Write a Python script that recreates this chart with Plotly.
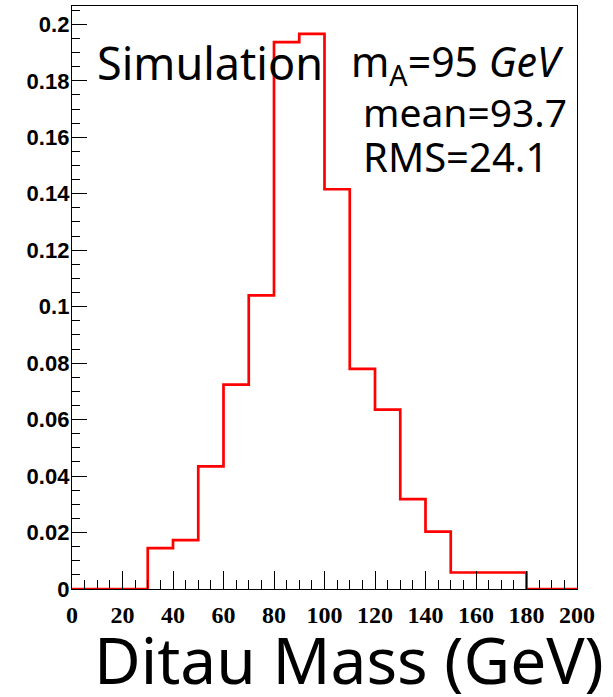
import plotly.graph_objects as go

# Histogram data (bin edges in GeV, normalized contents)
bin_edges = [0, 10, 20, 30, 40, 50, 60, 70, 80, 90, 100,
             110, 120, 130, 140, 150, 160, 170, 180, 190, 200]
bin_contents = [0.0, 0.0, 0.0, 0.0145, 0.0173, 0.0434, 0.0724, 0.1040,
                0.1937, 0.1966, 0.1416, 0.0780, 0.0635, 0.0318, 0.0203,
                0.00585, 0.00585, 0.00585, 0.0, 0.0]

x_tick_vals = [0, 20, 40, 60, 80, 100, 120, 140, 160, 180, 200]
x_tick_text = ["0", "20", "40", "60", "80", "100", "120", "140", "160", "180", "200"]
y_tick_vals = [0, 0.02, 0.04, 0.06, 0.08, 0.1, 0.12, 0.14, 0.16, 0.18, 0.2]
y_tick_text = ["0", "0.02", "0.04", "0.06", "0.08", "0.1", "0.12", "0.14", "0.16", "0.18", "0.2"]

y_step = bin_contents + [bin_contents[-1]]

fig = go.Figure()
fig.add_trace(go.Scatter(
    x=bin_edges, y=y_step, mode="lines", line_shape="hv",
    line=dict(color="#ff0000", width=2.7), cliponaxis=False,
    hoverinfo="skip", showlegend=False,
))

TXT = "Noto Sans"
fig.update_layout(
    width=613, height=697,
    margin=dict(l=72, r=36, t=6, b=108, pad=0),
    paper_bgcolor="white", plot_bgcolor="white",
    showlegend=False,
    xaxis=dict(
        range=[0, 200], showgrid=False, zeroline=False,
        showline=True, linecolor="black", linewidth=1, mirror=True,
        ticks="inside", ticklen=18, tickwidth=1, tickcolor="black",
        tickvals=x_tick_vals, ticktext=x_tick_text,
        tickfont=dict(family="Liberation Serif", size=24, color="black", weight="bold"),
        ticklabelstandoff=4,
        minor=dict(dtick=5, tick0=0, ticks="inside", ticklen=9, tickwidth=1, tickcolor="black"),
    ),
    yaxis=dict(
        range=[0, 0.2065], showgrid=False, zeroline=False,
        showline=True, linecolor="black", linewidth=1.3, mirror=True,
        ticks="inside", ticklen=15, tickwidth=1, tickcolor="black",
        tickvals=y_tick_vals, ticktext=y_tick_text,
        tickfont=dict(family="Liberation Sans", size=22, color="black", weight="bold"),
        ticklabelstandoff=-3,
        minor=dict(dtick=0.005, tick0=0, ticks="inside", ticklen=8, tickwidth=1, tickcolor="black"),
    ),
)

def px_x(p):
    return (p - 72) / 505.0

def px_y(p):
    return (589 - p) / 583.0

annos = [
    dict(text="Simulation", x=px_x(95), y=px_y(62), xanchor="left", yanchor="middle", size=45),
    dict(text="m<sub>A</sub>=95 <i>GeV</i>", x=px_x(349), y=px_y(63), xanchor="left", yanchor="middle", size=41),
    dict(text="mean=93.7", x=px_x(361), y=px_y(112), xanchor="left", yanchor="middle", size=39),
    dict(text="RMS=24.1", x=px_x(361), y=px_y(156), xanchor="left", yanchor="middle", size=40),
    dict(text="Ditau Mass (GeV)", x=px_x(606), y=px_y(659), xanchor="right", yanchor="middle", size=64),
]
for a in annos:
    fig.add_annotation(
        text=a["text"], xref="paper", yref="paper", x=a["x"], y=a["y"],
        xanchor=a["xanchor"], yanchor=a["yanchor"], showarrow=False,
        font=dict(family=TXT, size=a["size"], color="black"),
    )

fig.write_html(
    "out.html",
    config={"displayModeBar": False},
    post_script="document.body.style.margin='0';document.body.style.overflow='hidden';",
)
